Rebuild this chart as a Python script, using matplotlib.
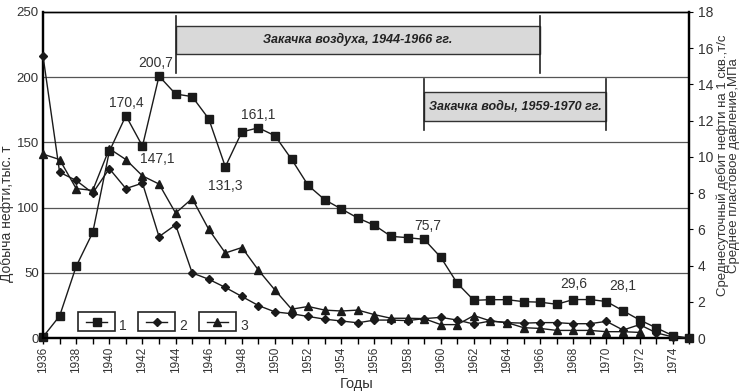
import matplotlib
matplotlib.use("Agg")
import matplotlib.pyplot as plt
from matplotlib.patches import Rectangle
from matplotlib.lines import Line2D

plt.rcParams['font.family'] = ['Liberation Sans Narrow', 'Liberation Sans', 'DejaVu Sans']

years1 = list(range(1936, 1976))
production = [1, 17, 55, 81, 143, 170.4, 147.1, 200.7, 187, 185, 168, 131.3,
              158, 161.1, 155, 137, 117, 106, 99, 92, 86.5, 78, 77, 75.7,
              62, 42, 29, 29.5, 29.5, 28, 27.6, 26, 29.6, 29.6, 28.1, 21,
              14, 8, 2, 0]

years2 = list(range(1936, 1976))
rate = [15.55, 9.15, 8.7, 8.0, 9.35, 8.25, 8.55, 5.6, 6.25, 3.6, 3.25, 2.8,
        2.3, 1.8, 1.45, 1.35, 1.2, 1.05, 0.95, 0.85, 1.0, 1.0, 0.97, 1.08,
        1.15, 1.0, 0.78, 0.95, 0.86, 0.83, 0.86, 0.86, 0.8, 0.8, 0.93, 0.45,
        0.75, 0.3, 0.07, 0]

years3 = list(range(1936, 1973))
pressure = [10.15, 9.85, 8.25, 8.15, 10.45, 9.85, 8.95, 8.5, 6.9, 7.7, 6.0, 4.7,
            5.0, 3.75, 2.65, 1.6, 1.75, 1.55, 1.5, 1.55, 1.3, 1.1, 1.1, 1.08,
            0.75, 0.75, 1.25, 0.95, 0.86, 0.58, 0.54, 0.43, 0.43, 0.43, 0.36,
            0.36, 0.32]

annot_years = [1943, 1941, 1942, 1947, 1949, 1959, 1968, 1970]
annot_text = ['200,7', '170,4', '147,1', '131,3', '161,1', '75,7', '29,6', '28,1']
annot_dx = [-0.2, 0.0, 0.9, 0.0, 0.0, 0.2, 0.0, 1.0]
annot_dy = [10, 10, -10, -15, 10, 10, 12, 12]

air_period = (1944, 1966)
water_period = (1959, 1970)
air_label = 'Закачка воздуха, 1944-1966 гг.'
water_label = 'Закачка воды, 1959-1970 гг.'

fig = plt.figure(figsize=(7.42, 3.91), dpi=100)
ax = fig.add_axes([0.058, 0.135, 0.871, 0.835])
ax2 = ax.twinx()

lc = '#1a1a1a'
ax.plot(years1, production, color=lc, lw=1.0, marker='s', ms=5.5,
        mfc=lc, mec=lc, clip_on=False, zorder=5)
ax2.plot(years2, rate, color=lc, lw=1.0, marker='D', ms=3.8,
         mfc=lc, mec=lc, clip_on=False, zorder=5)
ax2.plot(years3, pressure, color=lc, lw=1.0, marker='^', ms=5.5,
         mfc=lc, mec=lc, clip_on=False, zorder=5)

ax.set_xlim(1936, 1975)
ax.set_ylim(0, 250)
ax2.set_ylim(0, 18)

for g in [50, 100, 150, 200]:
    ax.axhline(g, color='#555555', lw=0.9, zorder=1)

ax.set_yticks([0, 50, 100, 150, 200, 250])
ax.tick_params(axis='y', length=0, labelsize=9.5, pad=3, labelcolor='#333333')
ax2.set_yticks(range(0, 19, 2))
ax2.tick_params(axis='y', length=3, direction='out', labelsize=10, pad=3, labelcolor='#333333')

ax.set_xticks(range(1936, 1976), minor=True)
ax.set_xticks(range(1936, 1976, 2))
ax.set_xticklabels([str(y) for y in range(1936, 1976, 2)], rotation=90, fontsize=8.5,
                   color='#333333')
ax.tick_params(axis='x', which='both', length=4, direction='out', width=1, pad=2)

for sp in ['left', 'bottom', 'right']:
    ax.spines[sp].set_linewidth(1.6)
    ax2.spines[sp].set_linewidth(1.6)
ax.spines['top'].set_linewidth(1.0)
ax2.spines['top'].set_linewidth(1.0)

ax.set_ylabel('Добыча нефти,тыс. т', fontsize=10, color='#333333')
ax.yaxis.set_label_coords(-0.045, 0.38)
ax.set_xlabel('Годы', fontsize=10.5, color='#333333', va='center')
ax.xaxis.set_label_coords(0.485, -0.14)
ax2.set_ylabel('Среднесуточный дебит нефти на 1 скв.,т/с\nСреднее пластовое давление,МПа',
               fontsize=9.5, linespacing=0.85, color='#333333', va='center')
ax2.yaxis.set_label_coords(1.06, 0.53)

for yr, t, dx, dy in zip(annot_years, annot_text, annot_dx, annot_dy):
    v = production[years1.index(yr)]
    ax.text(yr + dx, v + dy, t, ha='center', va='center', fontsize=10, color='#333333', zorder=6)

def period_box(period, band, lines, label):
    x0, x1 = period
    ax.add_patch(Rectangle((x0, band[0]), x1 - x0, band[1] - band[0],
                           facecolor='#d9d9d9', edgecolor='#333333', lw=1.0, zorder=2))
    ax.plot([x0, x0], lines, color='#222222', lw=1.2, zorder=3)
    ax.plot([x1, x1], lines, color='#222222', lw=1.2, zorder=3)
    ax.text((x0 + x1) / 2, (band[0] + band[1]) / 2, label, ha='center', va='center',
            fontsize=9, style='italic', fontweight='bold',
            family=['Liberation Sans', 'DejaVu Sans'], color='#222222', zorder=4)

period_box(air_period, (218, 239), (203, 247), air_label)
period_box(water_period, (166, 188.5), (159.5, 198.5), water_label)

# legend boxes
legend_items = [('s', 5.5, '1'), ('D', 3.8, '2'), ('^', 5.5, '3')]
W, H = 742, 391
x_starts = [78, 138, 199]
for (m, ms, lab), xs in zip(legend_items, x_starts):
    bx, by, bw, bh = xs, 312, 37, 19
    fig.add_artist(Rectangle((bx / W, 1 - (by + bh) / H), bw / W, bh / H,
                             transform=fig.transFigure, facecolor='white',
                             edgecolor='#222222', lw=1.2, zorder=10))
    yc = 1 - (by + bh / 2) / H
    fig.add_artist(Line2D([(bx + 8) / W, (bx + bw - 8) / W], [yc, yc],
                          transform=fig.transFigure, color=lc, lw=1.0,
                          marker=None, zorder=11))
    fig.add_artist(Line2D([(bx + bw / 2) / W], [yc], transform=fig.transFigure,
                          color=lc, marker=m, ms=ms, mfc=lc, mec=lc, zorder=12))
    fig.text((bx + bw + 8) / W, 1 - (by + bh / 2 + 4) / H, lab, fontsize=10,
             ha='center', va='center', color='#333333', zorder=12)

fig.savefig('out.png', dpi=100)
